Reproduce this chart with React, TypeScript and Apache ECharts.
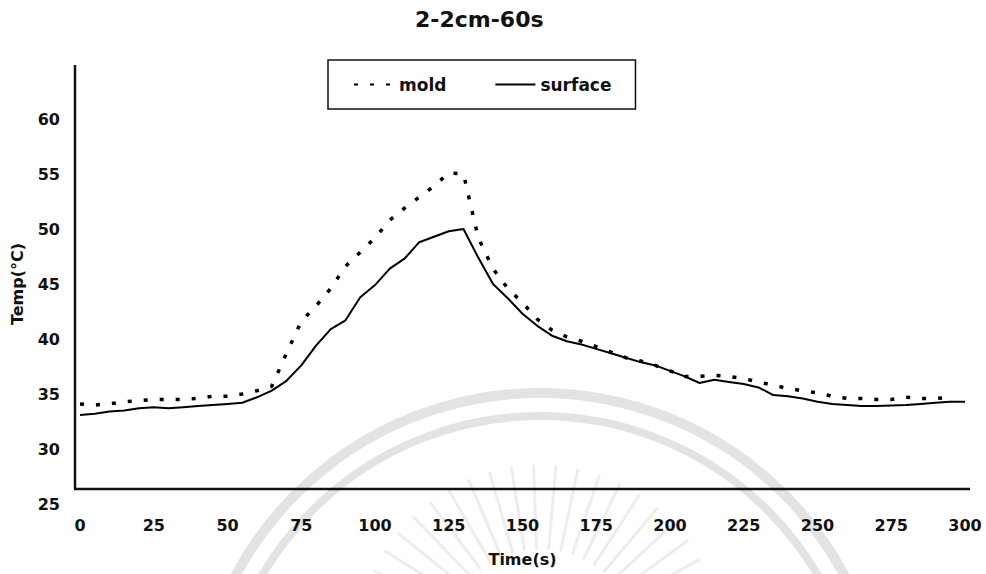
import { useEffect, useRef } from "react";
import * as echarts from "echarts";

const chartTitle = "2-2cm-60s";
const seriesNames = ["mold", "surface"];
const xAxisName = "Time(s)";
const yAxisName = "Temp(°C)";

// sampling times, seconds
const timeSeconds = [
  0, 5, 10, 15, 20, 25, 30, 35, 40, 45, 50, 55, 60, 65, 70, 75, 80, 85, 90, 95,
  100, 105, 110, 115, 120, 125, 130, 135, 140, 145, 150, 155, 160, 165, 170, 175,
  180, 185, 190, 195, 200, 205, 210, 215, 220, 225, 230, 235, 240, 245, 250, 255,
  260, 265, 270, 275, 280, 285, 290, 295, 300,
];

// mold temperature, °C
const moldTemp = [
  34.1, 34.0, 34.1, 34.3, 34.4, 34.5, 34.5, 34.5, 34.6, 34.8, 34.8, 35.0, 35.3, 35.7,
  38.7, 41.6, 43.0, 44.6, 46.6, 47.9, 49.2, 50.8, 51.9, 52.9, 53.9, 55.1, 55.0, 49.2,
  46.4, 44.6, 43.3, 41.8, 40.8, 40.2, 39.8, 39.3, 38.8, 38.3, 38.0, 37.6, 37.1, 36.6,
  36.6, 36.7, 36.6, 36.4, 36.1, 35.8, 35.5, 35.3, 35.1, 34.8, 34.6, 34.6, 34.5, 34.5,
  34.7, 34.6, 34.6, 34.7, null,
];

// surface temperature, °C
const surfaceTemp = [
  33.1, 33.2, 33.4, 33.5, 33.7, 33.8, 33.7, 33.8, 33.9, 34.0, 34.1, 34.2, 34.7, 35.3,
  36.2, 37.6, 39.4, 40.9, 41.7, 43.8, 44.9, 46.4, 47.3, 48.8, 49.3, 49.8, 50.0, 47.4,
  45.0, 43.7, 42.3, 41.2, 40.3, 39.8, 39.5, 39.1, 38.7, 38.3, 37.9, 37.6, 37.1, 36.6,
  36.0, 36.3, 36.1, 35.9, 35.6, 34.9, 34.8, 34.6, 34.3, 34.1, 34.0, 33.9, 33.9, 33.95,
  34.0, 34.1, 34.2, 34.3, 34.3,
];

const X_MIN = 0;
const X_MAX = 300;
const X_STEP = 25;
const Y_MIN = 25;
const Y_MAX = 65;
const Y_STEP = 5;

const FONT = "'DejaVu Sans', 'Liberation Sans', Arial, sans-serif";
const INK = "#111";
const CLEAR = "rgba(0,0,0,0)";

function pairs(xs: number[], ys: (number | null)[]) {
  return xs.map((x, i) => [x, ys[i]]);
}

// faint emblem in the background: two rings and a sunburst
function emblem() {
  const els: any[] = [];
  const cx = 540;
  const cy = 738;
  const ringColor = "rgba(0,0,0,0.11)";
  els.push({
    type: "arc",
    silent: true,
    z: -10,
    shape: { cx, cy, r: 345, startAngle: Math.PI, endAngle: Math.PI * 2 },
    style: { stroke: ringColor, lineWidth: 10, fill: "none" },
  });
  els.push({
    type: "arc",
    silent: true,
    z: -10,
    shape: { cx, cy, r: 322, startAngle: Math.PI, endAngle: Math.PI * 2 },
    style: { stroke: ringColor, lineWidth: 8, fill: "none" },
  });
  const rx = 540;
  const ry = 648;
  for (let a = 198; a <= 342; a += 7) {
    const t = (a * Math.PI) / 180;
    els.push({
      type: "line",
      silent: true,
      z: -10,
      shape: {
        x1: rx + Math.cos(t) * 100,
        y1: ry + Math.sin(t) * 100,
        x2: rx + Math.cos(t) * 182,
        y2: ry + Math.sin(t) * 182,
      },
      style: { stroke: "rgba(0,0,0,0.07)", lineWidth: 3, lineCap: "round" },
    });
  }
  return els;
}

export default function App() {
  const ref = useRef<HTMLDivElement>(null);

  useEffect(() => {
    document.body.style.margin = "0";
    const chart = echarts.init(ref.current!, undefined, { renderer: "svg" });

    const gridLeft = 80;
    const gridRight = 21;
    const gridTop = 64;
    const gridBottom = 70;

    chart.setOption({
      animation: false,
      backgroundColor: "#ffffff",
      title: {
        text: chartTitle,
        left: 415,
        top: 8,
        padding: 0,
        textStyle: { fontFamily: FONT, fontSize: 22, fontWeight: "bold", color: INK },
      },
      legend: {
        data: seriesNames,
        left: 328,
        top: 60,
        padding: [16, 24, 16, 25],
        itemWidth: 40,
        itemHeight: 14,
        itemGap: 48,
        borderColor: INK,
        borderWidth: 1.5,
        itemStyle: { color: CLEAR, borderColor: CLEAR, borderWidth: 0 },
        textStyle: { fontFamily: FONT, fontSize: 17, fontWeight: "bold", color: INK },
      },
      grid: { left: gridLeft, right: gridRight, top: gridTop, bottom: gridBottom },
      xAxis: {
        type: "value",
        min: X_MIN,
        max: X_MAX,
        interval: X_STEP,
        name: xAxisName,
        nameLocation: "middle",
        nameGap: 47,
        nameTextStyle: { fontFamily: FONT, fontSize: 16, fontWeight: "bold", color: INK },
        axisLine: { show: false },
        axisTick: { show: false },
        splitLine: { show: false },
        axisLabel: {
          margin: 13,
          fontFamily: FONT,
          fontSize: 16,
          fontWeight: "bold",
          color: INK,
        },
      },
      yAxis: {
        type: "value",
        min: Y_MIN,
        max: Y_MAX,
        interval: Y_STEP,
        name: yAxisName,
        nameLocation: "middle",
        nameRotate: 90,
        nameGap: 55,
        nameTextStyle: { fontFamily: FONT, fontSize: 16, fontWeight: "bold", color: INK },
        axisLine: { show: false },
        axisTick: { show: false },
        splitLine: { show: false },
        axisLabel: {
          margin: 20,
          fontFamily: FONT,
          fontSize: 16,
          fontWeight: "bold",
          color: INK,
          formatter: (v: number) => (v >= Y_MAX ? "" : String(v)),
        },
      },
      graphic: [
        ...emblem(),
        // frame lines of the plot
        {
          type: "line",
          silent: true,
          z: 5,
          shape: { x1: 75, y1: 65, x2: 75, y2: 489 },
          style: { stroke: INK, lineWidth: 2.5 },
        },
        {
          type: "line",
          silent: true,
          z: 5,
          shape: { x1: 74, y1: 489, x2: 970, y2: 489 },
          style: { stroke: INK, lineWidth: 2.5 },
        },
      ],
      series: [
        {
          name: seriesNames[0],
          type: "line",
          data: pairs(timeSeconds, moldTemp),
          symbol: "none",
          showSymbol: false,
          connectNulls: false,
          lineStyle: { color: "#000", width: 3.5, type: [4, 12], cap: "butt" },
          itemStyle: { color: CLEAR, borderColor: CLEAR, borderWidth: 0 },
        },
        {
          name: seriesNames[1],
          type: "line",
          data: pairs(timeSeconds, surfaceTemp),
          symbol: "none",
          showSymbol: false,
          lineStyle: { color: "#000", width: 2 },
          itemStyle: { color: CLEAR, borderColor: CLEAR, borderWidth: 0 },
        },
      ],
    });

    return () => chart.dispose();
  }, []);

  return <div ref={ref} style={{ width: 986, height: 574 }} />;
}
